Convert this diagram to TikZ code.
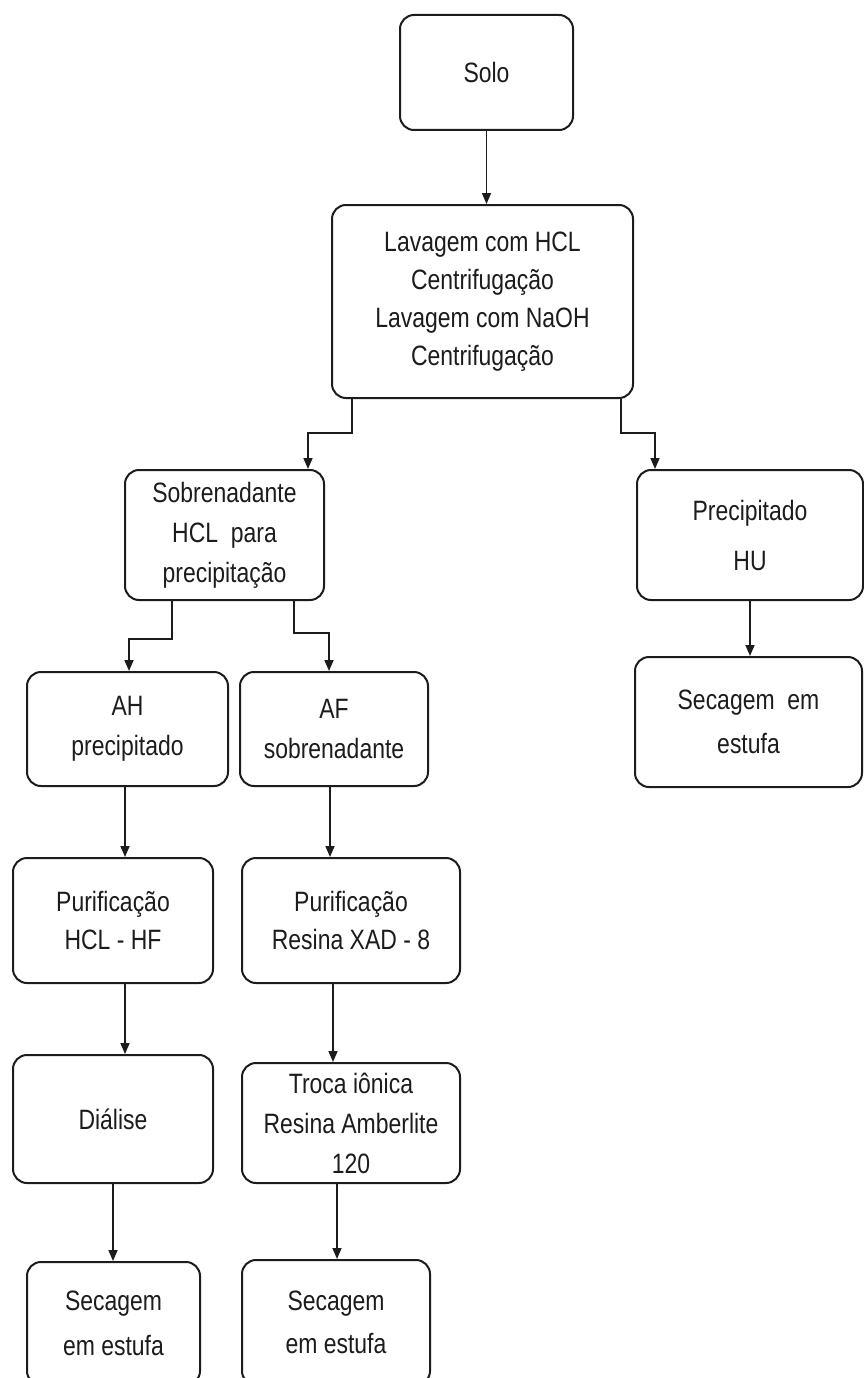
\documentclass[tikz,border=0pt]{standalone}
\usepackage{fontspec}
\setmainfont{Liberation Sans}[FakeStretch=0.82]
\usetikzlibrary{arrows.meta,calc}
\definecolor{ink}{HTML}{1C1C1C}
\begin{document}
\begin{tikzpicture}[x=1pt,y=-1pt,
  flowbox/.style={draw=ink,line width=2pt,rounded corners=14pt,align=center,inner sep=0pt,text=ink,
    font=\fontsize{28}{40}\selectfont},
  arr/.style={draw=ink,line width=1.6pt,-{Triangle[length=11pt,width=9pt]}}]
\useasboundingbox (0,0) rectangle (864,1378);
\clip (0,0) rectangle (864,1378);
\fill[white] (0,0) rectangle (864,1378);
% nodes
\node[flowbox,minimum width=173pt,minimum height=115pt] (solo) at (486.5,72.5) {Solo};
\node[flowbox,minimum width=301pt,minimum height=193pt,font=\fontsize{28}{38}\selectfont] (lav) at (482.5,301.5)
  {Lavagem com HCL\\Centrifugação\\Lavagem com NaOH\\Centrifugação};
\node[flowbox,minimum width=199pt,minimum height=130pt] (sob) at (224.5,535)
  {Sobrenadante\\HCL\ \ para\\precipitação};
\node[flowbox,minimum width=226pt,minimum height=130pt,font=\fontsize{28}{50}\selectfont] (prec) at (750,535)
  {Precipitado\\HU};
\node[flowbox,minimum width=227pt,minimum height=130pt,font=\fontsize{28}{44}\selectfont] (sechu) at (748.5,722)
  {Secagem\ \ em\\estufa};
\node[flowbox,minimum width=201pt,minimum height=114pt] (ah) at (127.5,729) {AH\\precipitado};
\node[flowbox,minimum width=188pt,minimum height=114pt] (af) at (334,729) {AF\\sobrenadante};
\node[flowbox,minimum width=200pt,minimum height=125pt,font=\fontsize{28}{38}\selectfont] (p1) at (113,920.5) {Purificação\\HCL - HF};
\node[flowbox,minimum width=218pt,minimum height=125pt,font=\fontsize{28}{38}\selectfont] (p2) at (351,920.5) {Purificação\\Resina XAD - 8};
\node[flowbox,minimum width=200pt,minimum height=128pt] (dia) at (113,1119) {Diálise};
\node[flowbox,minimum width=218pt,minimum height=120pt] (troca) at (351,1123)
  {Troca iônica\\Resina Amberlite\\120};
\node[flowbox,minimum width=173pt,minimum height=123pt,font=\fontsize{28}{45}\selectfont] (s1) at (113.5,1323.5)
  {Secagem\\em estufa};
\node[flowbox,minimum width=188pt,minimum height=125pt,font=\fontsize{28}{43}\selectfont] (s2) at (336,1322.5)
  {Secagem\\em estufa};
% connectors
\draw[arr] (solo.south) -- (solo.south |- lav.north);
\coordinate (k1) at (308,433);
\coordinate (k2) at (655,433);
\draw[arr] ([xshift=21pt]lav.south west) |- (k1) -- (k1 |- sob.north);
\draw[arr] ([xshift=-13pt]lav.south east) |- (k2) -- (k2 |- prec.north);
\coordinate (k3) at (129,639);
\coordinate (k4) at (329,633);
\draw[arr] ([xshift=48pt]sob.south west) |- (k3) -- (k3 |- ah.north);
\draw[arr] ([xshift=-31pt]sob.south east) |- (k4) -- (k4 |- af.north);
\draw[arr] (prec.south) -- (prec.south |- sechu.north);
\coordinate (c1) at (125,0);
\coordinate (c2) at (330,0);
\coordinate (c3) at (333,0);
\coordinate (c4) at (337,0);
\draw[arr] (c1 |- ah.south) -- (c1 |- p1.north);
\draw[arr] (c2 |- af.south) -- (c2 |- p2.north);
\draw[arr] (c1 |- p1.south) -- (c1 |- dia.north);
\draw[arr] (c3 |- p2.south) -- (c3 |- troca.north);
\draw[arr] (dia.south) -- (dia.south |- s1.north);
\draw[arr] (c4 |- troca.south) -- (c4 |- s2.north);
\end{tikzpicture}
\end{document}
